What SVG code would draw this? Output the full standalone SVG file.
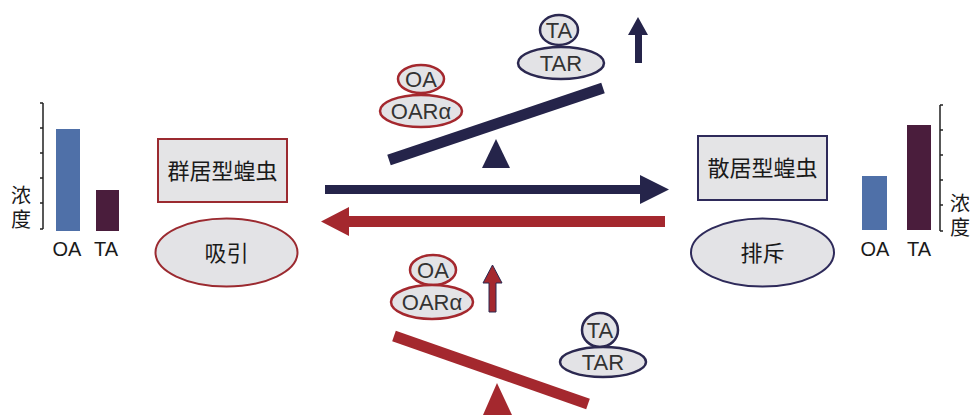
<svg xmlns="http://www.w3.org/2000/svg" width="973" height="415" viewBox="0 0 973 415">
  <style>
    text { font-family: "Liberation Sans", "Noto Sans CJK SC", sans-serif; fill: #1a1a1a; text-anchor: middle; }
    .cjk { font-family: "Noto Sans CJK SC", sans-serif; }
    .vert { writing-mode: vertical-rl; text-anchor: start; letter-spacing: 4px; font-size: 20px; }
    .red { stroke: #a4282e; }
    .navy { stroke: #2b2850; }
    .pill { fill: #e3e3e6; stroke-width: 2.5; }
    .lbl { font-size: 22px; fill: #333; }
    .axis { stroke: #222; stroke-width: 1.5; fill: none; }
    .oa { fill: #4f70a8; }
    .ta { fill: #4a1d3c; }
  </style>

  <!-- concentration chart, left side -->
  <g id="chart-left">
    <path class="axis" d="M43,103 V229 M40,103 H43 M40,128 H43 M40,153 H43 M40,178 H43 M40,203 H43 M40,229 H43"/>
    <rect class="oa" x="56" y="129" width="24" height="102"/>
    <rect class="ta" x="96" y="190" width="23" height="41"/>
    <text x="67" y="256" font-size="20">OA</text>
    <text x="106" y="256" font-size="20">TA</text>
    <text class="cjk vert" x="21" y="185">浓度</text>
  </g>

  <!-- concentration chart, right side -->
  <g id="chart-right">
    <path class="axis" d="M940,105 V231 M940,105 H943 M940,130 H943 M940,155 H943 M940,180 H943 M940,205 H943 M940,231 H943"/>
    <rect class="oa" x="862" y="176" width="25" height="54"/>
    <rect class="ta" x="907" y="125" width="24" height="105"/>
    <text x="875" y="256" font-size="20">OA</text>
    <text x="919" y="256" font-size="20">TA</text>
    <text class="cjk vert" x="960" y="193">浓度</text>
  </g>

  <!-- gregarious locust -->
  <g id="gregarious">
    <rect x="158" y="139" width="129" height="63" fill="#e4e4e6" stroke="#9b2a30" stroke-width="2"/>
    <text class="cjk" x="222.5" y="179" font-size="22">群居型蝗虫</text>
  </g>
  <g id="attract">
    <ellipse cx="226.5" cy="252.5" rx="71" ry="34" fill="#e3e3e6" stroke="#9b2a30" stroke-width="2"/>
    <text class="cjk" x="226.5" y="261" font-size="22">吸引</text>
  </g>

  <!-- solitarious locust -->
  <g id="solitarious">
    <rect x="698" y="136" width="129" height="64" fill="#e4e4e6" stroke="#2e2a5a" stroke-width="2"/>
    <text class="cjk" x="762.5" y="176" font-size="22">散居型蝗虫</text>
  </g>
  <g id="repel">
    <ellipse cx="762.5" cy="252.5" rx="71.5" ry="34" fill="#e3e3e6" stroke="#2e2a5a" stroke-width="2"/>
    <text class="cjk" x="762.5" y="261" font-size="22">排斥</text>
  </g>

  <!-- upper balance: TA side heavier -->
  <g id="balance-top">
    <line x1="389" y1="160" x2="603" y2="88" stroke="#25244a" stroke-width="11"/>
    <polygon points="496,139 482,168 510,168" fill="#25244a"/>
  </g>
  <g id="oa-top">
    <ellipse class="pill red" cx="421" cy="79" rx="23" ry="14"/>
    <text class="lbl" x="421" y="87">OA</text>
    <ellipse class="pill red" cx="421" cy="111" rx="41" ry="16"/>
    <text class="lbl" x="421" y="119">OARα</text>
  </g>
  <g id="ta-top">
    <ellipse class="pill navy" cx="559" cy="30" rx="19" ry="15"/>
    <text class="lbl" x="559" y="38">TA</text>
    <ellipse class="pill navy" cx="561" cy="63" rx="43" ry="16"/>
    <text class="lbl" x="561" y="71">TAR</text>
  </g>
  <g id="up-top">
    <polygon points="638,17 648,35 642,35 642,63 635,63 635,35 628,35" fill="#25244a"/>
  </g>

  <!-- lower balance: OA side heavier -->
  <g id="balance-bottom">
    <line x1="394" y1="336" x2="588" y2="404" stroke="#a4282e" stroke-width="11"/>
    <polygon points="497,383 483,415 512,415" fill="#a4282e"/>
  </g>
  <g id="oa-bottom">
    <ellipse class="pill red" cx="433" cy="270" rx="23" ry="15"/>
    <text class="lbl" x="433" y="278">OA</text>
    <ellipse class="pill red" cx="432" cy="302" rx="41" ry="17"/>
    <text class="lbl" x="432" y="310">OARα</text>
  </g>
  <g id="ta-bottom">
    <ellipse class="pill navy" cx="600" cy="330" rx="18" ry="17"/>
    <text class="lbl" x="600" y="338">TA</text>
    <ellipse class="pill navy" cx="603" cy="362" rx="43" ry="15"/>
    <text class="lbl" x="603" y="370">TAR</text>
  </g>
  <g id="up-bottom">
    <polygon points="492.5,265 502,283 496,283 496,312 489,312 489,283 483,283" fill="#a4282e" stroke="#2b2850" stroke-width="1"/>
  </g>

  <!-- phase-change connectors -->
  <g id="connectors">
    <polygon points="325,185 640,185 640,175 669,189.5 640,204 640,194 325,194" fill="#25244a"/>
    <polygon points="665,216 349,216 349,207 321,221.5 349,236 349,227 665,227" fill="#a4282e"/>
  </g>
</svg>
